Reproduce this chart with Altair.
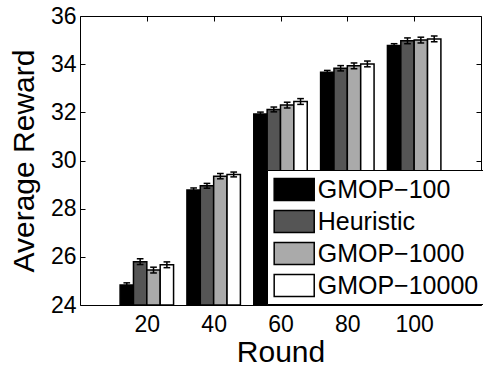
import altair as alt
import pandas as pd

rounds = [20, 40, 60, 80, 100]
series = ["GMOP−100", "Heuristic", "GMOP−1000", "GMOP−10000"]
gmop100 = [24.83, 28.78, 31.93, 33.66, 34.77]
heuristic = [25.80, 28.95, 32.12, 33.83, 34.97]
gmop1000 = [25.45, 29.35, 32.30, 33.93, 35.00]
gmop10000 = [25.67, 29.42, 32.45, 34.01, 35.05]
err100 = [0.09, 0.08, 0.08, 0.08, 0.08]
err_heur = [0.12, 0.10, 0.10, 0.11, 0.12]
err1000 = [0.12, 0.11, 0.12, 0.12, 0.12]
err10000 = [0.12, 0.10, 0.12, 0.12, 0.12]
colors = ["#000000", "#555555", "#aaaaaa", "#ffffff"]

vals = [gmop100, heuristic, gmop1000, gmop10000]
errs = [err100, err_heur, err1000, err10000]
rows = []
for i, s in enumerate(series):
    for j, r in enumerate(rounds):
        rows.append({"round": r, "series": s, "idx": i, "value": vals[i][j], "err": errs[i][j]})
df = pd.DataFrame(rows)

FONT = "Liberation Sans"
xscale = alt.Scale(domain=[0, 120], nice=False, zero=False)
yscale = alt.Scale(domain=[24, 36], nice=False, zero=False)

xaxis = alt.Axis(values=rounds, title="Round", grid=False, domain=False, tickSize=5, offset=-5,
                 tickColor="black", labelColor="black", titleColor="black",
                 labelFontSize=23, titleFontSize=30, labelFont=FONT, titleFont=FONT,
                 titleFontWeight="normal", labelPadding=8, titlePadding=1)
yaxis = alt.Axis(values=[24, 26, 28, 30, 32, 34, 36], title="Average Reward", grid=False, domain=False,
                 tickSize=5, offset=-5, tickColor="black", labelColor="black", titleColor="black",
                 labelFontSize=23, titleFontSize=30, labelFont=FONT, titleFont=FONT,
                 titleFontWeight="normal", labelPadding=4, titlePadding=11)
xtop = alt.Axis(values=rounds, title=None, labels=False, grid=False, domain=False, tickSize=5,
                offset=-5, orient="top", tickColor="black")
yright = alt.Axis(values=[24, 26, 28, 30, 32, 34, 36], title=None, labels=False, grid=False,
                  domain=False, tickSize=5, offset=-5, orient="right", tickColor="black")

base = alt.Chart(df).transform_calculate(
    xc="datum.round + (datum.idx - 1.5) * 4",
).transform_calculate(
    x1="datum.xc - 2", x2="datum.xc + 2",
    c1="datum.xc - 1", c2="datum.xc + 1",
    lo="datum.value - datum.err", hi="datum.value + datum.err",
)

bars = base.mark_bar(stroke="black", strokeWidth=1.5, opacity=1).encode(
    x=alt.X("x1:Q", scale=xscale, axis=xaxis),
    x2="x2:Q",
    y=alt.Y("value:Q", scale=yscale, axis=yaxis),
    y2=alt.datum(24),
    fill=alt.Fill("series:N", scale=alt.Scale(domain=series, range=colors), sort=series,
                  legend=alt.Legend(title=None, orient="none", legendX=187, legendY=154,
                                    symbolType="M-1.4,-0.77H1.4V0.77H-1.4Z", symbolSize=818,
                                    symbolOffset=7.7,
                                    symbolStrokeColor="black", symbolStrokeWidth=1.5,
                                    symbolOpacity=1, labelFontSize=25, labelFont=FONT,
                                    labelColor="black", labelOffset=8, rowPadding=2,
                                    labelLimit=400,
                                    fillColor="white", strokeColor="black", padding=4)),
)

stems = base.mark_rule(color="black", strokeWidth=1.5).encode(
    x=alt.X("xc:Q", scale=xscale, axis=xtop),
    y=alt.Y("lo:Q", scale=yscale, axis=yright),
    y2="hi:Q",
)
caps_lo = base.mark_rule(color="black", strokeWidth=1.5).encode(
    x=alt.X("c1:Q", scale=xscale, axis=None), x2="c2:Q", y=alt.Y("lo:Q", scale=yscale, axis=None))
caps_hi = base.mark_rule(color="black", strokeWidth=1.5).encode(
    x=alt.X("c1:Q", scale=xscale, axis=None), x2="c2:Q", y=alt.Y("hi:Q", scale=yscale, axis=None))

chart = alt.layer(bars, stems, caps_lo, caps_hi).resolve_axis(
    x="independent", y="independent"
).properties(
    width=401, height=289,
    autosize=alt.AutoSizeParams(type="none"),
    padding={"left": 80, "top": 16, "right": 2, "bottom": 62},
    background="white",
).configure_view(stroke="black", strokeWidth=1)

chart.save("out.html", embed_options={"renderer": "svg", "actions": False})
